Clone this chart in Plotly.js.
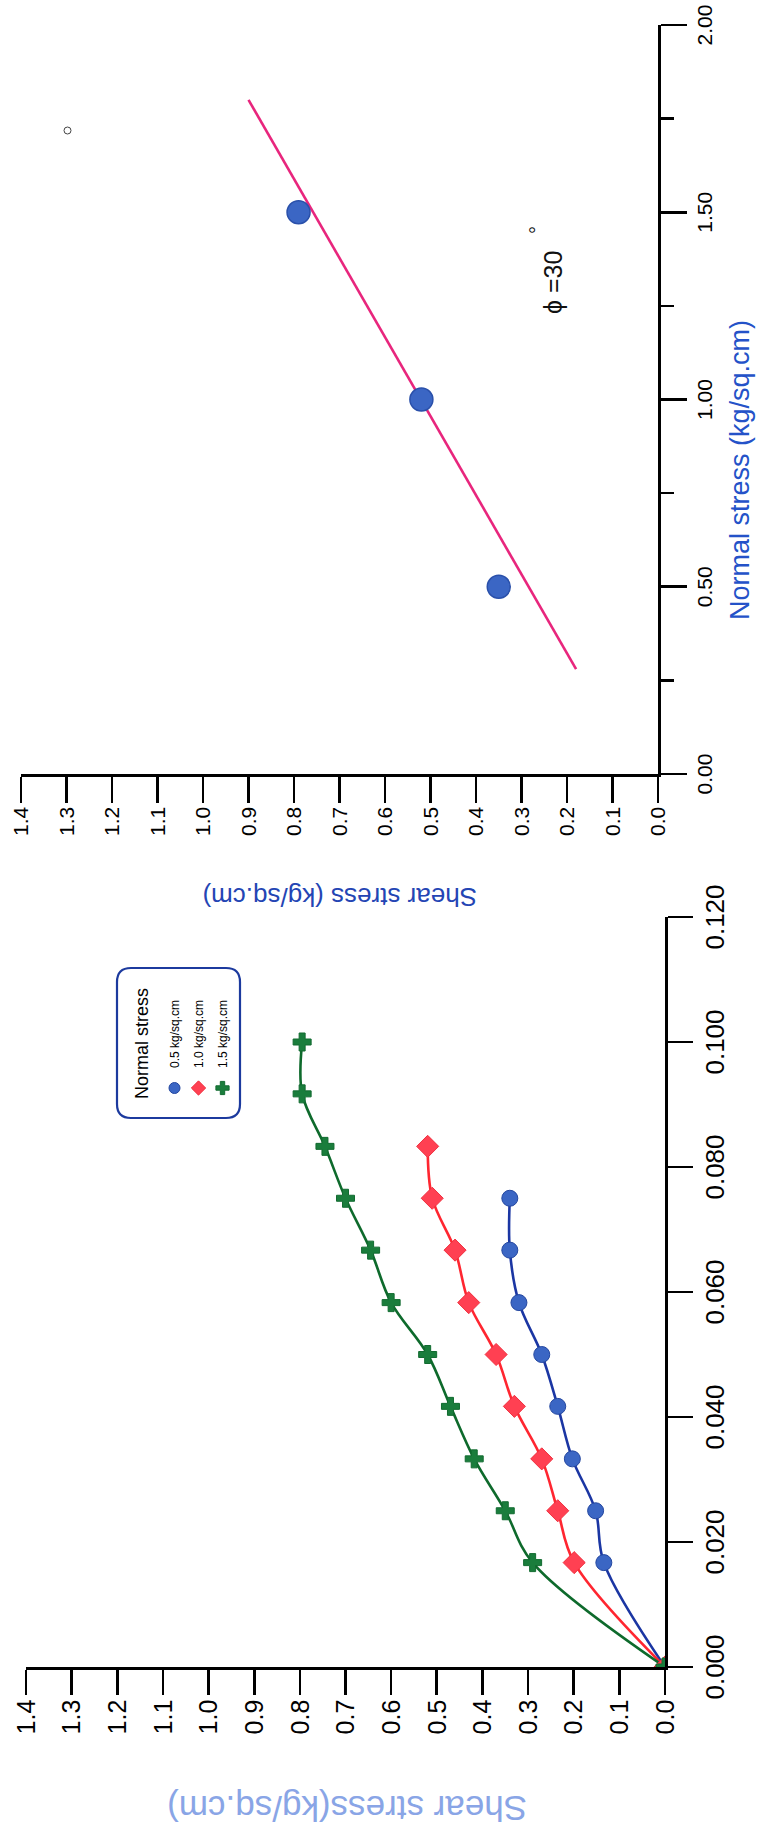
<!DOCTYPE html>
<html>
<head>
<meta charset="utf-8">
<script src="https://cdn.plot.ly/plotly-3.0.1.min.js"></script>
<style>
  html, body { margin: 0; padding: 0; background: #fff; overflow: hidden; width: 759px; height: 1830px; }
  /* landscape sheet turned a quarter turn counter-clockwise onto the portrait page */
  #chart { position: absolute; left: 0; top: 0; width: 1830px; height: 759px;
           transform-origin: 0 0; transform: translate(0, 1830px) rotate(-90deg); }
</style>
</head>
<body>
<div id="chart"></div>
<script>
// Direct shear test: shear stress against shear strain for three normal loads
const strain   = [0, 0.0167, 0.025, 0.0333, 0.0417, 0.05, 0.0583, 0.0667, 0.075, 0.0833, 0.0917, 0.1];
const shear05  = [0, 0.134, 0.152, 0.203, 0.235, 0.27, 0.32, 0.34, 0.34];
const shear10  = [0, 0.199, 0.235, 0.27, 0.33, 0.37, 0.43, 0.46, 0.51, 0.52];
const shear15  = [0, 0.29, 0.35, 0.418, 0.47, 0.52, 0.60, 0.645, 0.70, 0.745, 0.795, 0.795];
const loadNames = ['0.5 kg/sq.cm', '1.0 kg/sq.cm', '1.5 kg/sq.cm'];

// Failure envelope: peak shear stress against normal stress
const normalStress   = [0.5, 1.0, 1.5];
const peakShear      = [0.35, 0.52, 0.79];
const envelopeNormal = [0.28, 1.80];
const envelopeShear  = [0.18, 0.90];
const frictionAngle  = 30;

const W = 1830, H = 759;
const px = v => v / W;          // sheet pixels -> paper x
const py = v => 1 - v / H;      // sheet pixels -> paper y
const FONT = 'Liberation Sans, Arial, Helvetica, sans-serif';

const curveStyle = [
  { line: '#1b36a3', fill: '#3b66c4', edge: '#2447a0', symbol: 'circle',  size: 16 },
  { line: '#ff2630', fill: '#ff4052', edge: '#f0303f', symbol: 'diamond', size: 17 },
  { line: '#0e6a2c', fill: '#1a7d3c', edge: '#126b30', symbol: 'cross',   size: 15 }
];
const curveData = [shear05, shear10, shear15];

const traces = [];
curveData.forEach((ys, i) => {
  traces.push({
    x: strain.slice(0, ys.length), y: ys, xaxis: 'x', yaxis: 'y',
    mode: 'lines', line: { shape: 'spline', color: curveStyle[i].line, width: 2.6 },
    showlegend: false, hoverinfo: 'skip'
  });
});
curveData.forEach((ys, i) => {
  traces.push({
    x: strain.slice(0, ys.length), y: ys, xaxis: 'x', yaxis: 'y',
    mode: 'markers', showlegend: false,
    marker: { symbol: curveStyle[i].symbol, size: curveStyle[i].size, color: curveStyle[i].fill,
              line: { color: curveStyle[i].edge, width: 1 } }
  });
});
// legend keys (marker only)
loadNames.forEach((name, i) => {
  traces.push({
    x: [null], y: [null], xaxis: 'x', yaxis: 'y', name: name, legendgroup: 'g' + i,
    mode: 'markers',
    marker: { symbol: curveStyle[i].symbol, size: 11, color: curveStyle[i].fill,
              line: { color: curveStyle[i].edge, width: 1 } }
  });
});

// envelope line and peak points
traces.push({
  x: envelopeNormal, y: envelopeShear, xaxis: 'x2', yaxis: 'y2', mode: 'lines',
  line: { color: '#e8267d', width: 2.6 }, showlegend: false
});
traces.push({
  x: normalStress, y: peakShear, xaxis: 'x2', yaxis: 'y2', mode: 'markers', showlegend: false,
  marker: { symbol: 'circle', size: 23, color: '#3b66c4', line: { color: '#2a50aa', width: 1.5 } }
});

const axisBase = {
  showgrid: false, zeroline: false, showline: true, linecolor: '#000', linewidth: 2.6,
  ticks: 'outside', tickcolor: '#000', tickwidth: 2.6, mirror: false, fixedrange: true
};

const layout = {
  width: W, height: H, margin: { l: 0, r: 0, t: 0, b: 0 },
  paper_bgcolor: '#fff', plot_bgcolor: 'rgba(0,0,0,0)',
  font: { family: FONT, color: '#000' },
  showlegend: true,
  xaxis: Object.assign({}, axisBase, {
    domain: [px(163), px(913)], range: [0, 0.12], dtick: 0.02, tick0: 0, tickformat: '.3f',
    ticklen: 25, tickfont: { size: 26 }, anchor: 'y'
  }),
  yaxis: Object.assign({}, axisBase, {
    domain: [py(665), py(26)], range: [0, 1.4], dtick: 0.1, tick0: 0, tickformat: '.1f',
    ticklen: 25, tickfont: { size: 25 }, anchor: 'x'
  }),
  xaxis2: Object.assign({}, axisBase, {
    domain: [px(1056), px(1805)], range: [0, 2], dtick: 0.5, tick0: 0, tickformat: '.2f',
    ticklen: 26, tickfont: { size: 21 }, anchor: 'y2',
    minor: { dtick: 0.25, ticks: 'outside', ticklen: 13, tickwidth: 2.6, tickcolor: '#000' }
  }),
  yaxis2: Object.assign({}, axisBase, {
    domain: [py(658), py(21)], range: [0, 1.4], dtick: 0.1, tick0: 0, tickformat: '.1f',
    ticklen: 26, tickfont: { size: 21 }, anchor: 'x2'
  }),
  legend: {
    x: px(722), y: py(160), xanchor: 'left', yanchor: 'top',
    bgcolor: 'rgba(0,0,0,0)', borderwidth: 0,
    font: { size: 12, family: FONT, color: '#000' },
    tracegroupgap: 5, itemsizing: 'trace'
  },
  shapes: [
    // rounded legend frame
    (() => {
      const x0 = 712, x1 = 862, y0 = 117, y1 = 240, r = 14;
      const P = (x, y) => px(x) + ',' + py(y);
      return {
        type: 'path', xref: 'paper', yref: 'paper', layer: 'below',
        path: 'M' + P(x0 + r, y0) + ' L' + P(x1 - r, y0) + ' Q' + P(x1, y0) + ' ' + P(x1, y0 + r) +
              ' L' + P(x1, y1 - r) + ' Q' + P(x1, y1) + ' ' + P(x1 - r, y1) +
              ' L' + P(x0 + r, y1) + ' Q' + P(x0, y1) + ' ' + P(x0, y1 - r) +
              ' L' + P(x0, y0 + r) + ' Q' + P(x0, y0) + ' ' + P(x0 + r, y0) + ' Z',
        line: { color: '#1c3a9e', width: 2.2 }, fillcolor: 'rgba(0,0,0,0)'
      };
    })(),
    // small open ring near the top of the envelope panel
    { type: 'circle', xref: 'paper', yref: 'paper',
      x0: px(1696), x1: px(1703), y0: py(64), y1: py(71),
      line: { color: '#444', width: 1 } }
  ],
  annotations: [
    { text: 'Normal stress', xref: 'paper', yref: 'paper',
      x: px(729), y: py(142), xanchor: 'left', yanchor: 'middle', showarrow: false,
      font: { size: 18, color: '#000', family: FONT } },
    { text: 'Shear stress(kg/sq.cm)', textangle: -90, xref: 'paper', yref: 'paper',
      x: px(22), y: py(347), xanchor: 'center', yanchor: 'middle', showarrow: false,
      font: { size: 35, color: '#89a5e6', family: FONT } },
    { text: 'Shear stress (kg/sq.cm)', textangle: -90, xref: 'paper', yref: 'paper',
      x: px(933), y: py(340), xanchor: 'center', yanchor: 'middle', showarrow: false,
      font: { size: 26, color: '#2445b4', family: FONT } },
    { text: 'Normal stress (kg/sq.cm)', xref: 'paper', yref: 'paper',
      x: px(1360), y: py(740), xanchor: 'center', yanchor: 'middle', showarrow: false,
      font: { size: 27, color: '#2452c8', family: FONT } },
    { text: '\u03D5 =' + frictionAngle, xref: 'paper', yref: 'paper',
      x: px(1547), y: py(553), xanchor: 'center', yanchor: 'middle', showarrow: false,
      font: { size: 25, color: '#111', family: FONT } },
    { text: '\u00B0', xref: 'paper', yref: 'paper',
      x: px(1600), y: py(537), xanchor: 'center', yanchor: 'middle', showarrow: false,
      font: { size: 20, color: '#111', family: FONT } }
  ]
};

Plotly.newPlot('chart', traces, layout, { staticPlot: true, displayModeBar: false });
</script>
</body>
</html>
